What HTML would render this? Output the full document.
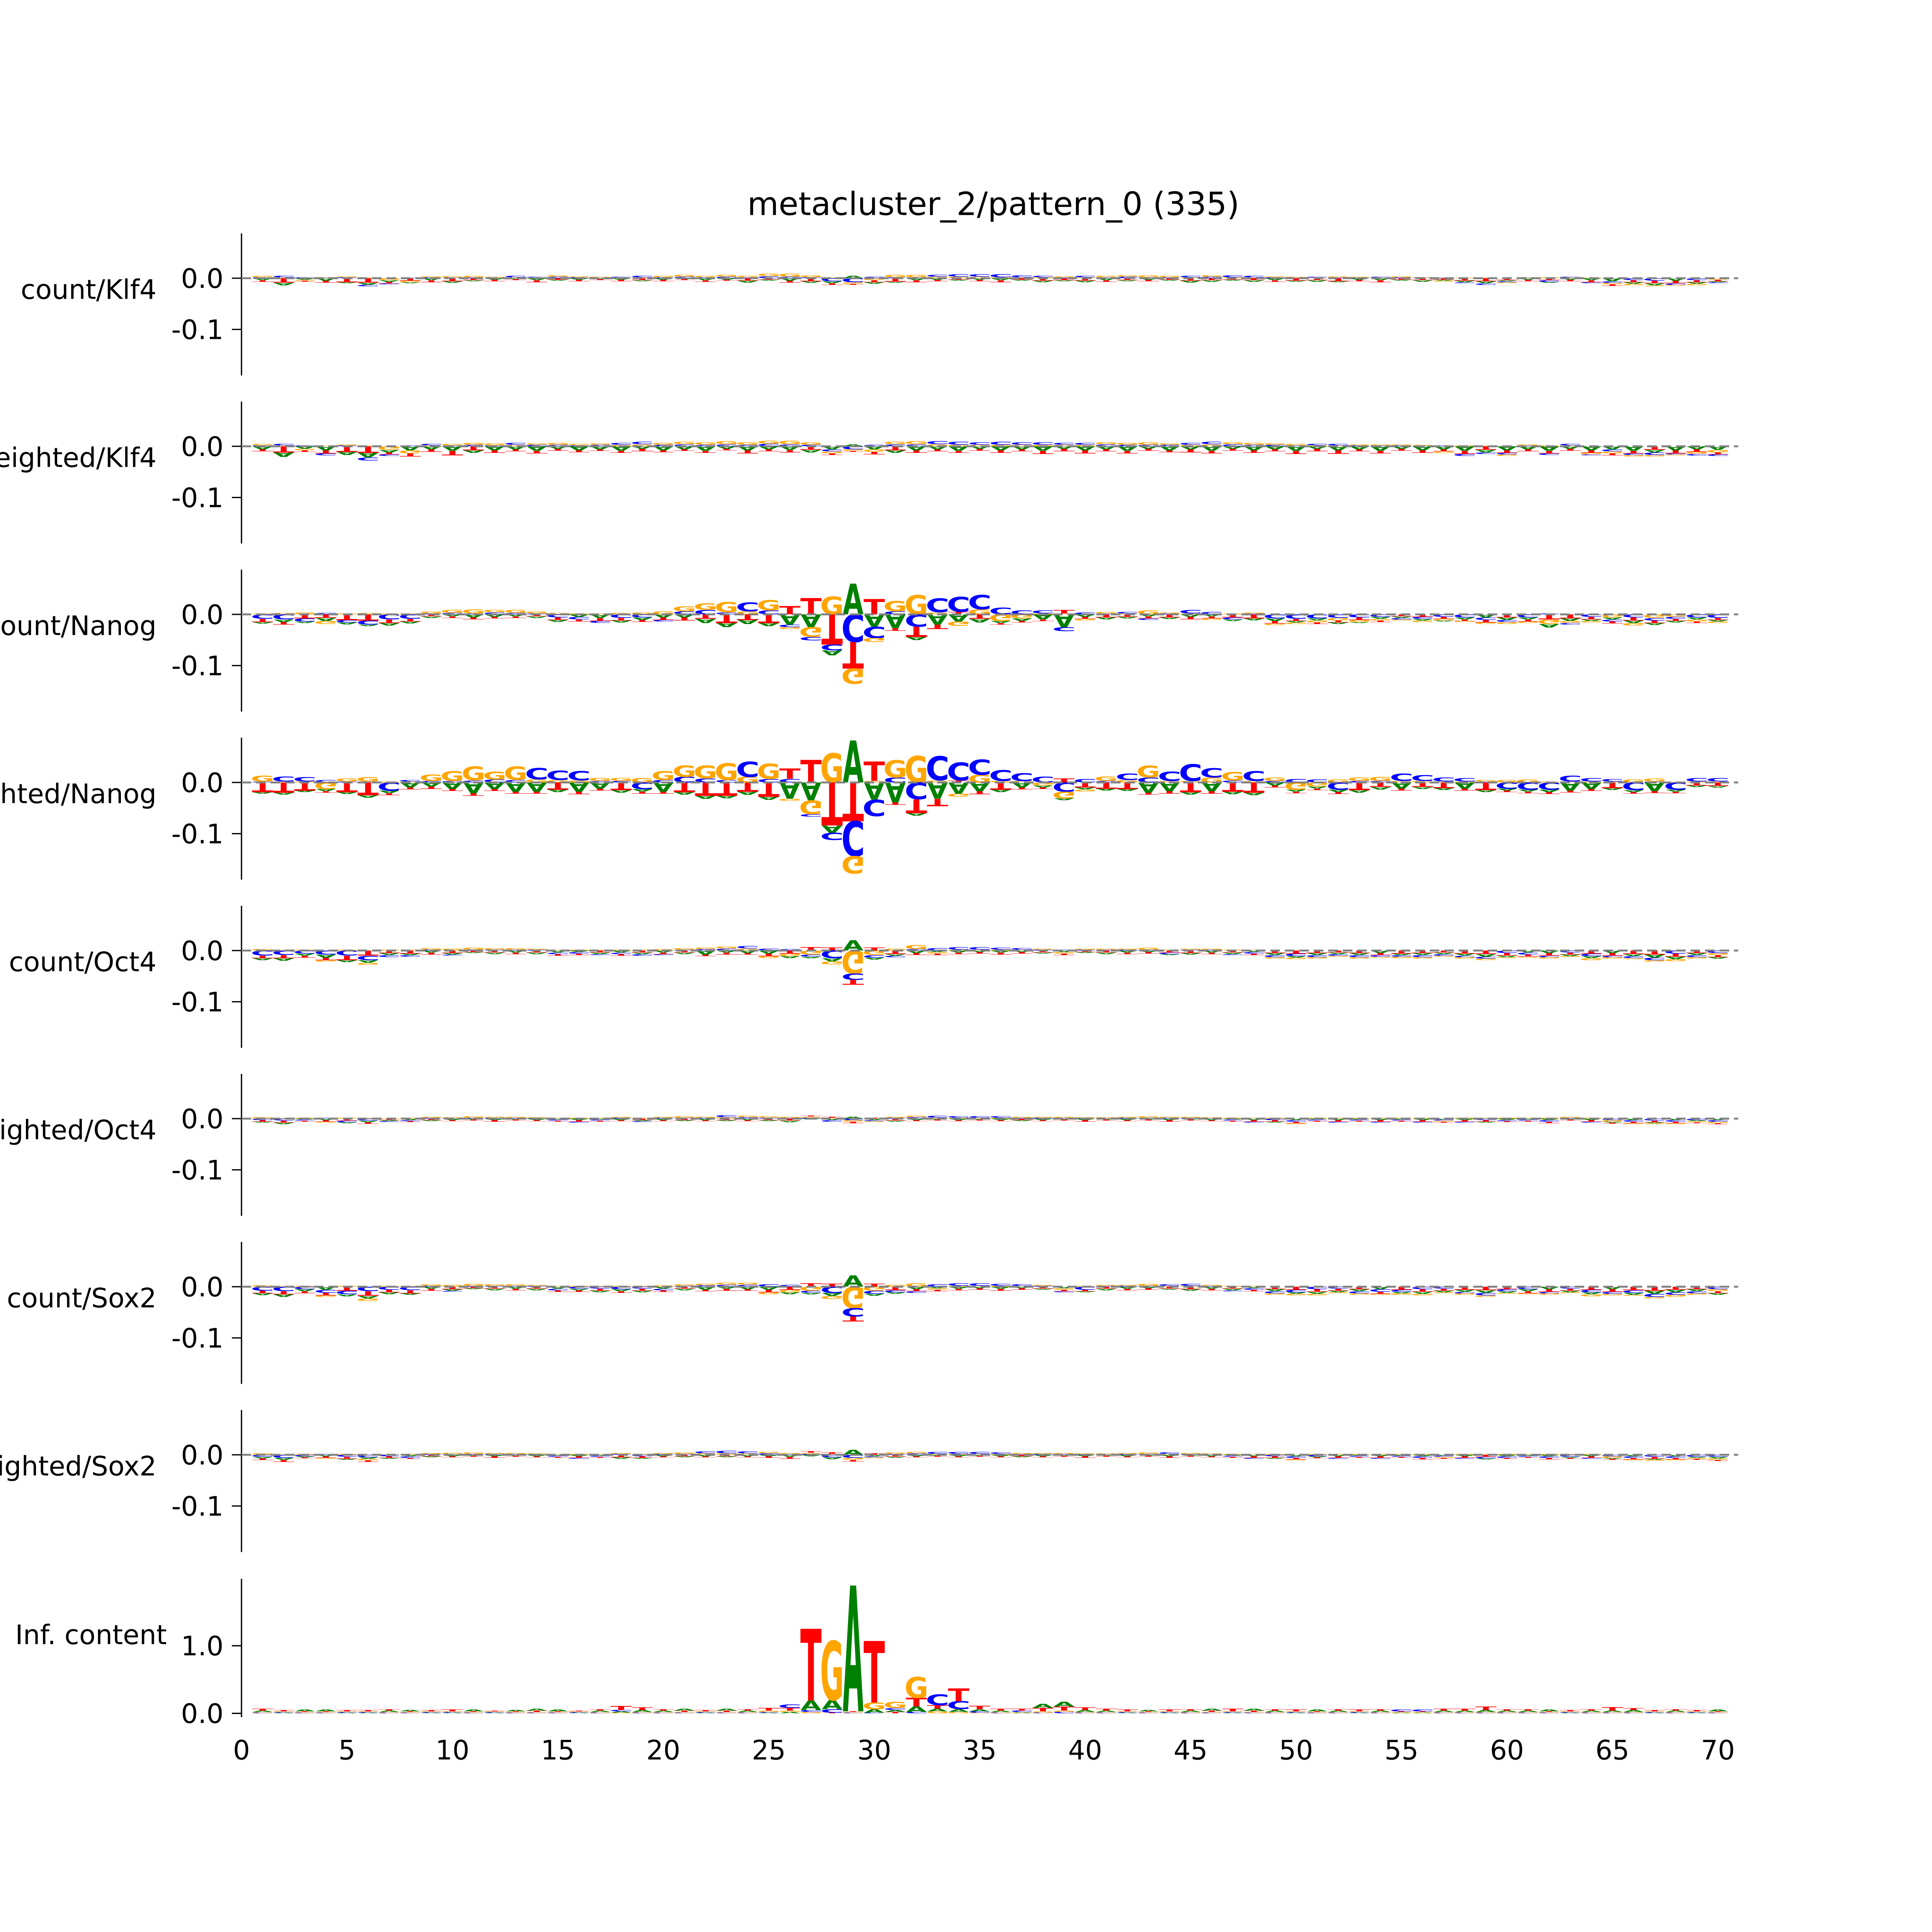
<!DOCTYPE html>
<html><head><meta charset="utf-8"><style>
html,body{margin:0;padding:0;background:#fff;overflow:hidden;width:100vw;height:100vh;}
svg{display:block;width:100vw;height:100vh;font-family:"DejaVu Sans","Liberation Sans",sans-serif;}
</style></head><body>
<svg id="fig" viewBox="0 0 6000 6000" preserveAspectRatio="xMinYMin meet" xmlns="http://www.w3.org/2000/svg">
<rect width="6000" height="6000" fill="#fff"/>
<text x="3085" y="668" font-size="100" text-anchor="middle">metacluster_2/pattern_0 (335)</text>
<g id="panels"></g>
</svg>
<script>
// contribution values in thousandths, positions 1..70
const klf4CountA=[-4,-5,-3,-5,-2,-4,-3,-2,-4,-3,-2,-3,-2,-4,-2,-3,-2,-3,-2,-3,-2,-4,-3,-4,-2,-5,-3,-4,5,-3,-2,-4,-3,-2,-3,-4,-2,-3,-2,-3,-4,-2,-3,-2,-4,-3,-2,-3,-4,-2,-3,-2,-3,-4,-2,-3,-2,-3,-4,-2,-3,-2,-3,-4,-6,-3,-4,-5,-3,-2];
const klf4CountC=[2,3,2,1,2,-3,-2,1,2,1,2,1,3,2,3,2,1,2,3,2,3,2,3,2,4,3,2,-6,-8,3,2,2,4,5,5,6,4,3,2,3,2,3,2,2,3,3,4,3,2,1,2,2,1,2,2,1,1,-2,-3,-2,1,-3,2,-2,-3,-4,-5,-3,-4,-2];
const klf4CountG=[3,2,-2,1,2,2,-4,-3,2,3,3,2,2,1,3,2,2,1,2,3,4,3,4,3,5,6,4,2,-3,-4,5,5,3,3,3,2,2,2,2,2,3,3,4,3,2,3,2,2,2,2,1,2,2,1,2,1,-2,1,2,-2,1,2,1,1,-3,-3,-2,-2,-3,-3];
const klf4CountT=[-3,-9,-2,-4,-8,-9,-3,-5,-4,-6,-4,-3,-2,-4,-3,-3,-2,-3,-4,-3,-2,-3,-2,-5,-3,-4,-6,-3,-2,-4,-7,-4,-3,-3,-3,-4,-3,-5,-4,-5,-3,-4,-3,-3,-5,-4,-3,-4,-3,-5,-4,-6,-3,-4,-3,-4,-3,-5,-6,-4,-3,-4,-3,-4,-3,-4,-5,-5,-4,-3];

const klf4WeightedA=[-6,-9,-5,-8,-6,-9,-5,-8,-6,-9,-5,-8,-6,-9,-5,-8,-6,-9,-5,-8,-6,-9,-5,-8,-6,-7,-5,-6,4,-6,-5,-8,-6,-9,-5,-8,-6,-9,-5,-8,-6,-9,-5,-8,-6,-9,-5,-8,-6,-9,-5,-8,-6,-9,-5,-8,-6,-9,-5,-8,-6,-9,-5,-8,-6,-9,-5,-8,-6,-7];
const klf4WeightedC=[2,3,2,-4,2,-6,-3,2,3,2,3,2,4,3,3,2,3,4,5,3,4,3,4,3,5,4,3,-4,-6,3,4,4,6,6,5,6,5,5,4,4,4,3,3,3,4,5,4,3,3,2,3,3,2,2,2,1,2,-4,-3,-3,2,-3,3,-2,-4,-3,-5,-2,-3,-3];
const klf4WeightedG=[3,2,-3,2,2,2,-7,-6,2,3,4,4,3,3,4,3,3,3,4,4,5,5,6,5,6,7,5,-4,-3,-5,5,6,4,3,3,3,3,3,3,3,4,4,5,3,3,4,4,4,3,3,2,2,2,2,2,2,-3,2,2,-3,2,2,2,-3,-4,-3,-3,-2,-4,-5];
const klf4WeightedT=[-4,-12,-3,-6,-11,-13,-4,-6,-5,-9,-8,-5,-4,-5,-4,-4,-3,-4,-5,-4,-3,-4,-3,-6,-4,-5,-7,-3,-2,-5,-8,-5,-4,-4,-4,-5,-4,-6,-5,-6,-4,-5,-4,-4,-6,-5,-4,-5,-4,-6,-5,-7,-4,-5,-4,-5,-4,-6,-7,-5,-4,-5,-4,-5,-4,-5,-7,-6,-5,-4];

const nanogCountA=[-3,-5,-3,-6,-4,-3,-5,-4,-3,-4,-6,-5,-4,-3,-4,-5,-7,-4,-5,-6,-6,-8,-8,-8,-6,-20,-25,-10,60,-24,-27,-6,-20,-14,-7,-4,-5,-10,-25,-5,-4,-3,-4,-3,-5,-4,-3,-4,-5,-3,-4,-3,-2,-4,-3,-3,-2,-4,-6,-5,-4,-7,-5,-3,-4,-5,-4,-3,-4,-3];
const nanogCountC=[-9,-10,-6,3,-5,-8,-10,-9,2,3,2,4,3,2,-6,-5,-4,-7,-6,-3,6,9,4,17,8,-5,-7,-11,-54,-22,6,-24,27,29,28,13,8,6,-8,4,2,3,-3,2,7,5,-4,2,-8,-9,-8,-7,-6,-5,-3,-4,-5,-6,-5,-4,-6,2,-3,-5,-4,-6,-5,-4,-6,-7];
const nanogCountG=[2,3,4,-6,2,3,2,2,4,6,8,5,6,4,3,2,2,3,4,6,10,12,20,6,20,-4,-19,35,-30,-8,20,38,4,-9,10,-13,-8,2,2,-3,3,2,8,2,2,-3,2,2,-3,-3,-4,-5,-4,-3,-2,-3,-3,-2,-3,-4,-3,-9,-4,-3,-6,-5,-7,-5,-4,-3];
const nanogCountT=[-6,-5,-8,-7,-11,-12,-7,-5,-4,-3,-4,-3,-3,-4,-5,-4,-6,-5,-4,-5,-6,-9,-17,-11,-17,16,32,-59,-52,30,-5,-20,-9,5,-9,-3,-3,-3,7,-4,-6,-5,-4,-6,-5,-4,-6,-8,-5,-4,-3,-4,-5,-3,-4,-5,-4,-3,-5,-6,-4,-10,-8,-5,-4,-6,-5,-4,-3,-4];

const nanogWeightedA=[-3,-4,-3,-4,-4,-5,-5,-10,-8,-13,-21,-13,-18,-18,-5,-18,-12,-5,-5,-18,-5,-6,-5,-6,-6,-32,-35,-14,82,-34,-39,-5,-32,-22,-17,-5,-10,-4,-4,-4,-4,-4,-20,-17,-5,-17,-5,-5,-6,-4,-4,-5,-5,-5,-12,-4,-4,-12,-4,-4,-4,-5,-16,-13,-4,-4,-17,-4,-3,-3];
const nanogWeightedC=[2,10,9,5,2,2,-16,3,3,3,4,6,5,22,18,18,3,3,-13,5,11,8,5,30,7,7,-5,-14,-68,-32,10,-33,47,35,30,21,15,11,-18,7,3,12,10,18,33,18,4,19,3,7,6,-14,3,3,14,11,8,7,2,-12,-14,-14,11,7,5,-15,2,-14,7,7];
const nanogWeightedG=[11,2,2,-13,6,9,2,2,12,19,27,15,26,6,5,4,6,6,9,17,22,25,33,11,30,-4,-27,57,-34,3,34,52,4,-6,15,3,3,-6,-13,-4,9,5,23,3,3,10,16,3,7,-14,-8,6,7,8,3,3,2,2,3,5,6,2,2,2,2,6,6,2,2,2];
const nanogWeightedT=[-19,-20,-16,-3,-19,-25,-4,-4,-5,-4,-5,-4,-4,-4,-14,-5,-4,-15,-4,-4,-19,-26,-26,-18,-28,20,44,-84,-76,38,-5,-27,-14,4,-6,-14,-4,-3,8,-10,-12,-13,-4,-5,-19,-5,-18,-20,-4,-3,-3,-4,-15,-9,-4,-9,-11,-4,-15,-3,-3,-4,-4,-4,-11,-3,-4,-3,-6,-7];

const oct4CountA=[-4,-5,-4,-6,-4,-5,-4,-3,-4,-3,-2,-3,-4,-3,-4,-3,-3,-4,-3,-4,-3,-8,-4,-5,-6,-4,-3,-6,20,-4,-3,-5,-3,-4,-3,-4,-3,-2,-3,-2,-3,-4,-3,-2,-3,-4,-3,-3,-4,-3,-4,-3,-4,-5,-3,-4,-3,-4,-5,-3,-4,-5,-3,-4,-5,-4,-6,-5,-4,-3];
const oct4CountC=[-10,-9,-6,-8,-10,-9,-4,-3,2,-2,2,2,2,2,-3,-3,-2,-3,-3,-2,2,3,4,5,4,3,-4,-15,-12,-5,-3,3,5,5,5,4,3,2,2,2,2,2,2,-3,2,2,-2,-3,-4,-5,-4,-3,-4,-3,-3,-4,-3,-3,-4,-5,-4,-3,-4,-5,-3,-4,-5,-6,-4,-5];
const oct4CountG=[3,2,2,-3,2,-4,2,2,3,4,4,3,3,2,2,2,2,2,2,3,3,3,4,4,-4,-5,-8,-6,-45,-9,4,8,-3,2,2,2,2,2,-3,2,2,2,4,2,2,2,2,2,-3,-3,-3,-2,-3,-2,-3,-3,-2,-3,-3,-2,-2,-3,-2,-4,-3,-2,-3,-4,-3,-4];
const oct4CountT=[-5,-6,-4,-5,-9,-10,-5,-6,-4,-5,-3,-4,-3,-4,-3,-3,-4,-3,-4,-3,-4,-3,-4,-3,-5,-6,7,6,-10,6,-7,-4,-3,-3,-3,-4,-3,-4,-3,-3,-4,-3,-3,-4,-5,-3,-4,-3,-5,-6,-5,-4,-5,-4,-6,-5,-4,-6,-7,-5,-4,-5,-4,-6,-5,-7,-8,-6,-5,-4];

const oct4WeightedA=[-2,-3,-2,-3,-2,-3,-2,-3,-2,-3,-2,-3,-2,-3,-2,-3,-2,-3,-2,-3,-2,-3,-2,-3,-2,-3,-2,-3,4,-3,-2,-3,-2,-3,-2,-3,-2,-3,-2,-3,-2,-3,-2,-3,-2,-3,-2,-3,-2,-3,-2,-3,-2,-3,-2,-3,-2,-3,-2,-3,-2,-3,-2,-3,-2,-3,-2,-3,-2,-3];
const oct4WeightedC=[-3,-4,-2,2,-3,-4,-2,-2,2,1,2,2,2,1,-2,-2,-2,2,-2,2,2,2,4,3,2,2,2,-3,-3,-2,2,3,4,3,3,3,2,2,2,1,1,2,2,2,2,1,-2,-2,-3,-3,-2,-2,-2,-2,-2,-2,-2,-2,-3,-2,-2,-3,2,-2,-3,-3,-4,-3,-3,-3];
const oct4WeightedG=[3,2,2,-2,2,2,1,2,2,2,3,2,2,2,2,2,2,2,2,2,3,2,3,3,3,2,2,2,-3,-2,2,3,2,2,2,2,2,2,2,2,2,2,3,2,2,2,2,2,2,-2,2,2,2,2,2,2,-2,2,2,2,2,2,2,2,-3,-2,-2,-2,-2,-3];
const oct4WeightedT=[-3,-4,-2,-3,-4,-3,-3,-2,-3,-2,-2,-3,-2,-2,-2,-3,-2,-2,-3,-2,-3,-2,-3,-2,-3,-4,2,2,-3,2,-4,-2,-2,-2,-2,-2,-3,-2,-2,-3,-2,-2,-2,-3,-2,-2,-2,-3,-3,-3,-2,-3,-2,-3,-2,-3,-2,-3,-3,-2,-2,-3,-2,-3,-2,-3,-3,-3,-2,-2];

const sox2CountA=[-4,-5,-4,-6,-4,-5,-4,-3,-4,-3,-2,-3,-4,-3,-4,-3,-3,-4,-3,-4,-3,-6,-4,-5,-6,-4,-3,-6,22,-4,-3,-5,-3,-4,-3,-4,-3,-2,-3,-2,-3,-4,-3,-2,-3,-4,-3,-3,-4,-3,-4,-3,-4,-5,-3,-4,-3,-4,-5,-3,-4,-5,-3,-4,-5,-4,-6,-5,-4,-3];
const sox2CountC=[-8,-9,-5,-6,-7,-9,-6,-7,2,-2,2,2,2,2,-3,-4,-4,-5,-4,-3,2,3,4,4,5,4,-4,-12,-16,-6,-4,-3,5,5,5,4,3,2,-2,-6,2,2,2,3,4,2,-2,-3,-4,-5,-5,-4,-4,-5,-4,-5,-4,-3,-5,-4,-5,-3,-4,-5,-4,-5,-6,-5,-4,-5];
const sox2CountG=[3,2,2,-3,2,-5,2,2,3,4,4,3,3,2,2,2,2,2,2,3,3,3,4,4,-4,-5,-8,-6,-42,-8,4,7,-3,2,2,2,2,2,-3,2,2,2,4,2,2,2,2,2,-3,-3,-3,-2,-3,-2,-3,-3,-2,-3,-3,-2,-2,-3,-2,-4,-3,-2,-3,-4,-3,-4];
const sox2CountT=[-5,-6,-4,-5,-8,-9,-5,-6,-4,-5,-3,-4,-3,-4,-3,-3,-4,-3,-4,-3,-4,-3,-4,-3,-5,-6,7,6,-10,6,-7,-4,-3,-3,-3,-4,-3,-4,-3,-3,-4,-3,-3,-4,-5,-3,-4,-3,-5,-6,-5,-4,-5,-4,-6,-5,-4,-6,-7,-5,-4,-5,-4,-6,-5,-7,-8,-6,-5,-4];

const sox2WeightedA=[-3,-4,-2,-3,-2,-3,-2,-3,-2,-3,-2,-3,-2,-3,-2,-3,-2,-3,-2,-3,-2,-3,-2,-3,-3,-4,-3,-4,10,-3,-2,-3,-2,-3,-2,-3,-2,-3,-2,-3,-2,-3,-2,-3,-2,-3,-2,-3,-2,-3,-2,-3,-2,-3,-2,-3,-2,-3,-2,-3,-2,-3,-2,-3,-2,-3,-2,-3,-2,-3];
const sox2WeightedC=[-4,-6,-3,2,-4,-5,-3,-3,2,1,2,2,2,1,-2,-2,-2,2,-3,2,2,4,5,4,3,2,2,-5,-6,-2,2,3,4,4,4,3,2,2,2,1,1,2,2,3,2,1,-2,-2,-3,-3,-3,-2,-2,-2,-2,-3,-2,-2,-3,-3,-2,-3,-4,-2,-3,-3,-4,-3,-4,-4];
const sox2WeightedG=[3,2,2,-2,2,-3,1,2,2,3,3,2,2,2,2,2,2,2,2,2,3,3,3,3,3,2,2,2,-4,-2,3,3,2,2,2,2,2,2,2,2,2,2,3,2,2,2,2,2,2,-2,2,2,2,2,2,2,-2,2,2,2,2,2,2,2,-3,-2,-2,-2,-2,-3];
const sox2WeightedT=[-3,-4,-2,-3,-4,-3,-3,-2,-3,-2,-2,-3,-2,-2,-2,-3,-2,-5,-3,-2,-3,-2,-3,-2,-3,-4,3,3,-3,3,-4,-2,-2,-2,-2,-2,-3,-2,-2,-3,-2,-2,-2,-3,-2,-2,-2,-3,-3,-3,-2,-3,-2,-3,-2,-3,-2,-3,-4,-2,-2,-3,-2,-3,-2,-3,-4,-3,-2,-2];

// information content in hundredths of bits
const icA=[2,1,3,3,1,1,2,2,1,1,3,1,2,3,3,1,2,2,3,2,3,1,3,2,1,2,14,14,186,5,3,8,4,4,3,2,1,6,7,3,2,1,2,1,2,3,1,3,2,1,3,2,1,2,1,1,2,2,3,2,2,3,1,2,2,3,1,2,1,3];
const icC=[1,1,1,1,1,1,1,1,1,1,1,1,1,1,1,1,1,2,1,1,1,1,1,1,1,5,3,5,1,1,3,2,16,12,2,1,2,1,2,1,1,1,1,1,1,1,1,1,1,1,1,1,1,1,3,3,1,1,1,1,1,1,1,1,1,1,1,1,1,1];
const icG=[1,1,1,1,1,1,1,1,1,1,1,1,1,1,1,1,1,1,1,1,1,1,1,1,2,2,2,87,1,10,9,31,3,2,1,1,1,2,2,1,1,1,1,1,1,1,1,1,1,1,1,1,1,1,1,1,1,1,1,1,1,1,1,1,1,1,1,1,1,1];
const icT=[3,2,1,1,2,2,2,1,2,3,1,1,1,2,1,1,2,6,4,2,2,2,2,2,4,4,106,1,1,91,2,13,5,19,5,3,3,5,6,4,3,3,1,3,2,2,4,2,2,3,1,2,3,2,1,1,3,3,5,2,2,1,2,2,5,3,2,2,2,1];

const panelLabels=["count/Klf4","weighted/Klf4","count/Nanog","weighted/Nanog","count/Oct4","weighted/Oct4","count/Sox2","weighted/Sox2"];
const contribTickLabels=["0.0","-0.1"];
const contribTickValues=[0,-0.1];
const icTickLabels=["0.0","1.0"];
const icTickValues=[0,1];
const xTickValues=[0,5,10,15,20,25,30,35,40,45,50,55,60,65,70];

const contribSets=[
 [klf4CountA,klf4CountC,klf4CountG,klf4CountT],
 [klf4WeightedA,klf4WeightedC,klf4WeightedG,klf4WeightedT],
 [nanogCountA,nanogCountC,nanogCountG,nanogCountT],
 [nanogWeightedA,nanogWeightedC,nanogWeightedG,nanogWeightedT],
 [oct4CountA,oct4CountC,oct4CountG,oct4CountT],
 [oct4WeightedA,oct4WeightedC,oct4WeightedG,oct4WeightedT],
 [sox2CountA,sox2CountC,sox2CountG,sox2CountT],
 [sox2WeightedA,sox2WeightedC,sox2WeightedG,sox2WeightedT]
];
const icSet=[icA,icC,icG,icT];

const NS="http://www.w3.org/2000/svg";
const root=document.getElementById('panels');
const BASES=["A","C","G","T"];
const COLORS={A:"#008000",C:"#0000ff",G:"#ffa500",T:"#ff0000"};
const INKW={A:0.77,C:0.64,G:0.71,T:0.66};
const CAP=0.729;
const X0=750, XU=65.5;
const FS=83;
function xScale(v){return X0+XU*v;}

function mk(tag,attrs,parent){const e=document.createElementNS(NS,tag);for(const k in attrs)e.setAttribute(k,attrs[k]);parent.appendChild(e);return e;}

function drawLetter(g,base,cx,yStart,h,down){
  if(h<0.3)return;
  const w=XU*0.98;
  const fs=100;
  const sx=w/(INKW[base]*fs), sy=h/(CAP*fs);
  const t=document.createElementNS(NS,'text');
  
  
  t.setAttribute('x',0);t.setAttribute('y',0);
  t.setAttribute('font-size',fs);t.setAttribute('font-weight','bold');
  t.setAttribute('text-anchor','middle');
  t.setAttribute('fill',COLORS[base]);
  t.setAttribute('font-family','"DejaVu Sans","Liberation Sans",sans-serif');
  t.setAttribute('transform','translate('+cx+','+yStart+') scale('+sx+','+(down?-sy:sy)+')');
  t.textContent=base;
  g.appendChild(t);
}

function drawLogo(g,set,yZero,pxPerUnit){
  for(let p=0;p<70;p++){
    const cx=xScale(p+1);
    const vals=BASES.map((b,k)=>({b:b,v:set[k][p]}));
    const pos=vals.filter(o=>o.v>0).sort((a,b)=>a.v-b.v);
    const neg=vals.filter(o=>o.v<0).sort((a,b)=>a.v-b.v);
    let y=yZero;
    for(const o of pos){const h=o.v*pxPerUnit;drawLetter(g,o.b,cx,y,h,false);y-=h;}
    y=yZero;
    for(const o of neg){const h=-o.v*pxPerUnit;drawLetter(g,o.b,cx,y,h,true);y+=h;}
  }
}

function yTicks(g,yZero,pxPerUnit,vals,labels){
  for(let i=0;i<vals.length;i++){
    const y=yZero-vals[i]*pxPerUnit;
    const tk=mk('line',{x1:720,x2:750,y1:y,y2:y,stroke:'#000','stroke-width':4},g);
    
    
    const tl=mk('text',{x:694,y:y+30,'font-size':FS,'text-anchor':'end',fill:'#000'},g);
    
    
    tl.textContent=labels[i];
  }
}

for(let i=0;i<8;i++){
  const top=725+522*i, zero=top+139, bottom=top+441, ppu=1.59;
  const g=mk('g',{},root);
  
  
  const ax=mk('line',{x1:750,x2:750,y1:top,y2:bottom,stroke:'#000','stroke-width':4},g);
  
  
  yTicks(g,zero,1590,contribTickValues,contribTickLabels);
  const lab=mk('text',{x:486,y:zero+64,'font-size':FS,'text-anchor':'end',fill:'#000'},g);
  
  
  lab.textContent=panelLabels[i];
  const lg=mk('g',{},g);
  
  
  drawLogo(lg,contribSets[i],zero,ppu);
  const dl=mk('line',{x1:750,x2:5398,y1:zero,y2:zero,stroke:'#808080','stroke-width':6,'stroke-dasharray':'30 15'},g);
  
  
}

{
  const top=4903, zero=5321, bottom=5333;
  const g=mk('g',{},root);
  
  
  const ax=mk('line',{x1:750,x2:750,y1:top,y2:bottom,stroke:'#000','stroke-width':4},g);
  
  
  yTicks(g,zero,210,icTickValues,icTickLabels);
  const lab=mk('text',{x:518,y:5106,'font-size':FS,'text-anchor':'end',fill:'#000'},g);
  
  
  lab.textContent='Inf. content';
  const lg=mk('g',{},g);
  
  
  drawLogo(lg,icSet,zero,2.1);
  for(const v of xTickValues){
    const x=xScale(v);
    const tl=mk('text',{x:x,y:5464,'font-size':FS,'text-anchor':'middle',fill:'#000'},g);
    
    
    tl.textContent=String(v);
  }
}
</script>
</body></html>
